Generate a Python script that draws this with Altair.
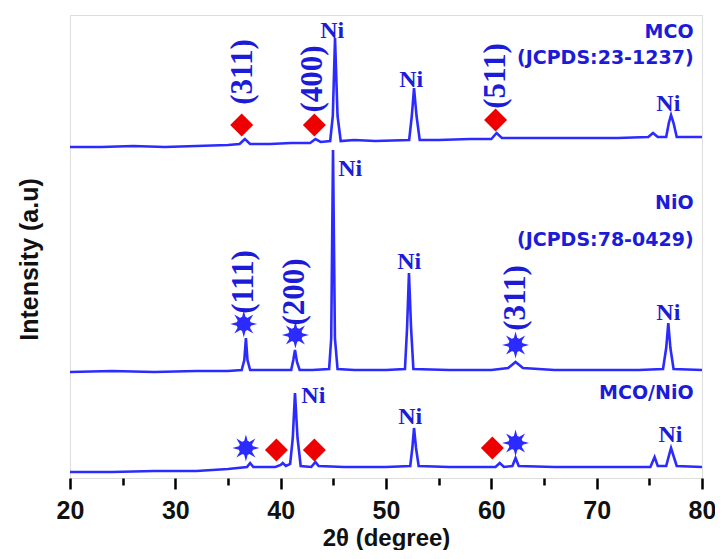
import math
import altair as alt
import pandas as pd

# ---------------- data ----------------
# intensity in arbitrary units (stacked traces)
mco_x = [20, 23, 26, 29, 32, 35, 36.1, 36.6, 37.1, 39, 41, 42.8, 43.3, 43.8, 44.7, 44.95, 45.16, 45.4, 45.7,
         47, 49, 52.2, 52.45, 52.66, 52.9, 53.2, 55, 58, 60.0, 60.5, 61.0, 64, 68, 72, 74.9, 75.35, 75.8,
         76.6, 76.85, 77.06, 77.3, 77.6, 80]
mco_y = [331, 331, 332, 331, 332, 333, 334, 339, 334, 334, 335, 335, 339, 336, 337, 362, 440, 362, 337,
         338, 337, 338, 362, 390, 362, 338, 338, 339, 339, 345, 340, 340, 340, 340, 341, 345, 341,
         341, 355, 363, 355, 341, 341]

nio_x = [20, 24, 28, 32, 35, 36.3, 36.55, 36.7, 36.85, 37.1, 39, 41.0, 41.2, 41.36, 41.55, 41.8, 43, 44.6,
         44.8, 44.97, 45.15, 45.4, 47, 50, 51.8, 52.0, 52.18, 52.38, 52.6, 56, 60, 61.6, 62.3, 63.0, 66,
         70, 74, 76.3, 76.6, 76.8, 77.0, 77.3, 80]
nio_y = [106, 107, 106, 107, 107, 108, 118, 140, 118, 108, 108, 108, 118, 128, 116, 108, 108, 109,
         140, 328, 140, 109, 108, 108, 109, 150, 205, 150, 109, 108, 108, 110, 116, 110, 108,
         108, 108, 109, 130, 155, 130, 109, 108]

mix_x = [20, 24, 28, 32, 35, 36.8, 37.1, 37.4, 39.5, 40.0, 40.2, 40.5, 40.9, 41.15, 41.36, 41.6, 41.9,
         42.9, 43.3, 43.6, 46, 50, 52.3, 52.5, 52.66, 52.85, 53.1, 56, 60.4, 60.8, 61.2, 62.0, 62.3,
         62.6, 66, 70, 75.1, 75.5, 75.8, 76.6, 76.85, 77.06, 77.3, 77.6, 80]
mix_y = [6, 6, 7, 7, 9, 11, 15, 11, 11, 13, 15, 12, 14, 40, 85, 40, 12,
         11, 16, 12, 11, 11, 12, 30, 50, 30, 12, 11, 11, 15, 11, 12, 20,
         12, 11, 11, 11, 21, 12, 12, 22, 30, 22, 12, 11]

# MCO reflections (red diamonds) and NiO reflections (blue stars)
diamond_x = [36.3, 43.2, 60.4, 39.6, 43.2, 60.1]
diamond_y = [353, 353, 358, 28, 28, 30]
star_x = [36.5, 41.4, 62.3, 36.7, 62.3]
star_y = [154, 143, 133, 30, 35]

hkl_text = ["(311)", "(400)", "(511)", "(111)", "(200)", "(311)"]
hkl_x = [36.4, 43.1, 60.4, 36.5, 41.4, 62.3]
hkl_y = [406, 399, 402, 196, 186, 180]

ni_x = [44.9, 52.4, 76.8, 46.6, 52.2, 76.8, 43.1, 52.3, 77.0]
ni_y = [447, 398, 374, 309, 216, 165, 82, 61, 43]

series_text = ["MCO", "(JCPDS:23-1237)", "NiO", "(JCPDS:78-0429)", "MCO/NiO"]
series_x = [79.2, 79.2, 79.2, 79.2, 79.2]
series_y = [446, 420, 275, 238, 85]

# ---------------- tables ----------------
traces = pd.concat([
    pd.DataFrame({"x": mco_x, "y": mco_y, "series": "MCO"}),
    pd.DataFrame({"x": nio_x, "y": nio_y, "series": "NiO"}),
    pd.DataFrame({"x": mix_x, "y": mix_y, "series": "MCO/NiO"}),
])
diamonds = pd.DataFrame({"x": diamond_x, "y": diamond_y})
stars = pd.DataFrame({"x": star_x, "y": star_y})
hkl = pd.DataFrame({"x": hkl_x, "y": hkl_y, "t": hkl_text})
ni = pd.DataFrame({"x": ni_x, "y": ni_y, "t": "Ni"})
series_lab = pd.DataFrame({"x": series_x, "y": series_y, "t": series_text})

# ---------------- style ----------------
LINE = "#2b2bff"
TEXT = "#1c1cd8"
RED = "#ee0000"

# 8-spike sun-like marker outline
pts = []
for k in range(16):
    r = 1.0 if k % 2 == 0 else 0.42
    a = k * math.pi / 8 - math.pi / 2
    pts.append(f"{r*math.cos(a):.3f},{r*math.sin(a):.3f}")
STAR_PATH = "M" + "L".join(pts) + "Z"

xscale = alt.Scale(domain=[20, 80], nice=False, zero=False)
yscale = alt.Scale(domain=[0, 463], nice=False, zero=False)

xaxis = alt.Axis(
    values=list(range(20, 81, 5)),
    labelExpr="datum.value % 10 == 0 ? datum.label : ''",
    tickSize={"condition": {"test": "datum.value % 10 == 0", "value": 11}, "value": 7},
    tickWidth=2.5, tickColor="black", domain=False, grid=False,
    labelFont="Liberation Sans", labelFontSize=25, labelFontWeight="bold", labelColor="#111111",
    labelPadding=9, labelFlush=False, labelOverlap=False,
    titleFont="Liberation Sans", titleFontSize=24, titleFontWeight="bold", titleColor="#111111",
    titlePadding=3,
)
yaxis = alt.Axis(
    labels=False, ticks=False, domain=False, grid=False,
    titleFont="Liberation Sans", titleFontSize=25, titleFontWeight="bold", titleColor="#111111",
    titlePadding=28, titleY=244,
)

X = alt.X("x:Q", scale=xscale, axis=xaxis, title="2θ (degree)")
Y = alt.Y("y:Q", scale=yscale, axis=yaxis, title="Intensity (a.u)")

lines = alt.Chart(traces).mark_line(color=LINE, strokeWidth=2.6, clip=True).encode(
    x=X, y=Y, detail="series:N"
)
dia = alt.Chart(diamonds).mark_point(shape="diamond", filled=True, color=RED, size=529, opacity=1).encode(
    x="x:Q", y="y:Q"
)
star_spikes = alt.Chart(stars).mark_point(shape=STAR_PATH, filled=True, color=LINE, size=729, opacity=1).encode(
    x="x:Q", y="y:Q"
)
star_core = alt.Chart(stars).mark_point(shape="circle", filled=True, color=LINE, size=210, opacity=1).encode(
    x="x:Q", y="y:Q"
)
hkl_txt = alt.Chart(hkl).mark_text(
    angle=270, align="center", baseline="middle", font="Liberation Serif", fontSize=31,
    fontWeight="bold", color=TEXT
).encode(x="x:Q", y="y:Q", text="t:N")
ni_txt = alt.Chart(ni).mark_text(
    align="center", baseline="middle", font="Liberation Serif", fontSize=24,
    fontWeight="bold", color=TEXT
).encode(x="x:Q", y="y:Q", text="t:N")
series_txt = alt.Chart(series_lab).mark_text(
    align="right", baseline="middle", font="DejaVu Sans", fontSize=19,
    fontWeight="bold", color=TEXT
).encode(x="x:Q", y="y:Q", text="t:N")

chart = alt.layer(lines, dia, star_spikes, star_core, hkl_txt, ni_txt, series_txt).properties(
    width=632, height=463,
    autosize=alt.AutoSizeParams(type="none"),
    padding={"left": 62, "top": 7, "right": 13, "bottom": 72},
).configure_view(stroke="black", strokeWidth=3).configure(background="white")

chart.save("out.html", embed_options={"renderer": "svg", "actions": False})
